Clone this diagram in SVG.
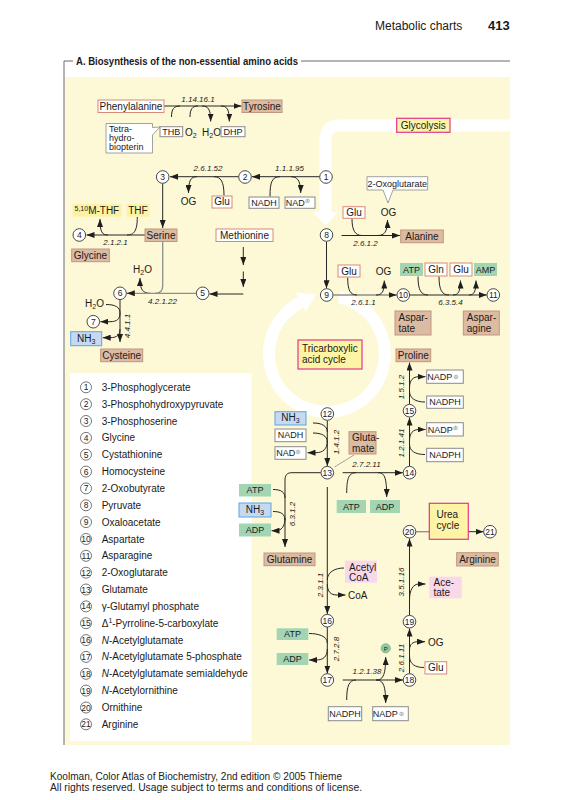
<svg xmlns="http://www.w3.org/2000/svg" width="564" height="800" viewBox="0 0 564 800">
<style>
text{font-family:"Liberation Sans",Arial,sans-serif;fill:#1a1a1a}
.t{font-size:10px}
.s{font-size:9px}
.c{text-anchor:middle}
.e{font-size:8px;font-style:italic}
.n{font-size:8.5px;text-anchor:middle}
.ln{fill:none;stroke:#262626;stroke-width:1}
.lg{fill:none;stroke:#8e8e8e;stroke-width:1.3}
.ar{marker-end:url(#ah)}
.nd{fill:#fff;stroke:#333;stroke-width:0.9}
.tan{fill:#dcbba3;stroke:#c0967e;stroke-width:1}
.wr{fill:#fff;stroke:#d98a76;stroke-width:1}
.wg{fill:#fff;stroke:#8a8a8a;stroke-width:1}
.grn{fill:#a3d5b3}
.blu{fill:#c6d9f1;stroke:#5aa6e0;stroke-width:1}
.yel{fill:#fcf2a2}
.mag{fill:#fdf4a6;stroke:#e0388c;stroke-width:1.2}
.pnk{fill:#f9d8ea}
.pl{font-family:"DejaVu Sans",sans-serif;font-size:6.5px;fill:#999}
.sub{font-size:7px}
</style>
<defs>
<marker id="ah" viewBox="0 0 8 6" refX="8" refY="3" markerWidth="8" markerHeight="6" markerUnits="userSpaceOnUse" orient="auto"><path d="M0,0 L8,3 L0,6 Z" fill="#1e1e1e"/></marker>
</defs>

<!-- header -->
<text x="375" y="30" style="font-size:12px">Metabolic charts</text>
<text x="488" y="30" style="font-size:13px;font-weight:bold">413</text>

<!-- frame -->
<rect x="64.5" y="77" width="445.5" height="668" fill="#fdf8d6"/>
<path d="M64,745 V61 H73 M301,61 H510" fill="none" stroke="#6a6a6a" stroke-width="1"/>
<text x="76" y="65" style="font-size:10.5px;font-weight:bold" textLength="222" lengthAdjust="spacingAndGlyphs">A. Biosynthesis of the non-essential amino acids</text>

<!-- white pathways (glycolysis band, TCA ring) -->
<g id="glycolysis-band">
<path d="M510,125.5 H339.5 Q325.5,125.5 325.5,139.5 V213" fill="none" stroke="#fff" stroke-width="12"/>
<polygon points="313,212 338,212 325.5,226" fill="#fff"/>
</g>
<g id="tca-ring">
<path d="M339.1,297.3 A58,58 0 1 1 300.7,302.3" fill="none" stroke="#fff" stroke-width="12"/>
<polygon points="295.7,292.5 305.7,312.1 315.9,294.6" fill="#fff"/>
</g>

<!-- legend -->
<g id="legend">
<rect x="70" y="373" width="181.7" height="368" fill="#fff"/>
<g fill="#fff" stroke="#555" stroke-width="0.8">
<circle cx="86" cy="387.3" r="5.5"/><circle cx="86" cy="404.2" r="5.5"/><circle cx="86" cy="421" r="5.5"/><circle cx="86" cy="437.9" r="5.5"/><circle cx="86" cy="454.7" r="5.5"/><circle cx="86" cy="471.6" r="5.5"/><circle cx="86" cy="488.4" r="5.5"/><circle cx="86" cy="505.3" r="5.5"/><circle cx="86" cy="522.1" r="5.5"/><circle cx="86" cy="539" r="5.5"/><circle cx="86" cy="555.8" r="5.5"/><circle cx="86" cy="572.7" r="5.5"/><circle cx="86" cy="589.5" r="5.5"/><circle cx="86" cy="606.4" r="5.5"/><circle cx="86" cy="623.2" r="5.5"/><circle cx="86" cy="640.1" r="5.5"/><circle cx="86" cy="656.9" r="5.5"/><circle cx="86" cy="673.8" r="5.5"/><circle cx="86" cy="690.6" r="5.5"/><circle cx="86" cy="707.5" r="5.5"/><circle cx="86" cy="724.3" r="5.5"/>
</g>
<g class="n">
<text x="86" y="390.3" class="n">1</text><text x="86" y="407.2" class="n">2</text><text x="86" y="424" class="n">3</text><text x="86" y="440.9" class="n">4</text><text x="86" y="457.7" class="n">5</text><text x="86" y="474.6" class="n">6</text><text x="86" y="491.4" class="n">7</text><text x="86" y="508.3" class="n">8</text><text x="86" y="525.1" class="n">9</text><text x="86" y="542" class="n">10</text><text x="86" y="558.8" class="n">11</text><text x="86" y="575.7" class="n">12</text><text x="86" y="592.5" class="n">13</text><text x="86" y="609.4" class="n">14</text><text x="86" y="626.2" class="n">15</text><text x="86" y="643.1" class="n">16</text><text x="86" y="659.9" class="n">17</text><text x="86" y="676.8" class="n">18</text><text x="86" y="693.6" class="n">19</text><text x="86" y="710.5" class="n">20</text><text x="86" y="727.3" class="n">21</text>
</g>
<g class="t">
<text x="101.7" y="390.8" class="t">3-Phosphoglycerate</text>
<text x="101.7" y="407.7" class="t">3-Phosphohydroxypyruvate</text>
<text x="101.7" y="424.5" class="t">3-Phosphoserine</text>
<text x="101.7" y="441.4" class="t">Glycine</text>
<text x="101.7" y="458.2" class="t">Cystathionine</text>
<text x="101.7" y="475.1" class="t">Homocysteine</text>
<text x="101.7" y="491.9" class="t">2-Oxobutyrate</text>
<text x="101.7" y="508.8" class="t">Pyruvate</text>
<text x="101.7" y="525.6" class="t">Oxaloacetate</text>
<text x="101.7" y="542.5" class="t">Aspartate</text>
<text x="101.7" y="559.3" class="t">Asparagine</text>
<text x="101.7" y="576.2" class="t">2-Oxoglutarate</text>
<text x="101.7" y="593" class="t">Glutamate</text>
<text x="101.7" y="609.9" class="t">γ-Glutamyl phosphate</text>
<text x="101.7" y="626.7" class="t">Δ<tspan class="sub" dy="-3.5">1</tspan><tspan dy="3.5">-Pyrroline-5-carboxylate</tspan></text>
<text x="101.7" y="643.6" class="t"><tspan font-style="italic">N</tspan>-Acetylglutamate</text>
<text x="101.7" y="660.4" class="t"><tspan font-style="italic">N</tspan>-Acetylglutamate 5-phosphate</text>
<text x="101.7" y="677.3" class="t" textLength="146" lengthAdjust="spacingAndGlyphs"><tspan font-style="italic">N</tspan>-Acetylglutamate semialdehyde</text>
<text x="101.7" y="694.1" class="t"><tspan font-style="italic">N</tspan>-Acetylornithine</text>
<text x="101.7" y="711" class="t">Ornithine</text>
<text x="101.7" y="727.8" class="t">Arginine</text>
</g>
</g>

<!-- connectors -->
<g id="connectors">
<path class="ln ar" d="M164,106 L241.5,106"/>
<path class="ln" d="M171.5,117 C171.5,109 174,106 180,106"/>
<path class="ln" d="M190,117 C190,109 192.5,106 198,106"/>
<path class="ln ar" d="M202,106 C208,106 210.7,109 210.7,121.5"/>
<path class="ln ar" d="M221,106 C227,106 229.3,109 229.3,121.5"/>

<path class="ln ar" d="M319.5,176.7 L252,176.7"/>
<path class="ln" d="M270,196.5 C270,182 272,176.7 280,176.7"/>
<path class="ln ar" d="M291,176.7 C297,176.7 300.7,180 300.7,193"/>
<path class="ln ar" d="M238.5,176.7 L170,176.7"/>
<path class="ln ar" d="M197,176.7 C191,176.7 188.5,180 188.5,193"/>
<path class="ln" d="M224,195.5 C224,182 221,176.7 214,176.7"/>

<path class="ln ar" d="M162.7,183.5 L162.7,228"/>
<path class="ln ar" d="M145,235 L86.5,235"/>
<path class="ln" d="M137.3,217 C137.3,231 134,235 127,235"/>
<path class="ln ar" d="M108,235 C102,235 100,232 100,219"/>

<path class="lg" d="M162.7,241.5 L162.7,286 C162.7,291 160,293.3 155,293.3"/>
<path class="ln ar" d="M150,293.3 C143,293.3 140,290 140,278"/>
<path class="ln ar" d="M243.3,247 L243.3,265"/>
<path class="ln ar" d="M243.3,271.5 L243.3,287"/>
<path class="ln ar" d="M243.3,294 L209.5,294"/>
<path class="lg" d="M196,293.3 L130,293.3"/>
<path class="ln ar" d="M134,293.3 L126.8,293.3"/>
<path class="ln ar" d="M120,299.8 L120,342"/>
<path class="ln" d="M106,304.5 C115,304.5 120,307 120,313"/>
<path class="ln ar" d="M120,313 C120,319 117,321.7 110,321.7 L100.3,321.7"/>
<path class="ln ar" d="M120,329 C120,335 117,337.7 110,337.7 L102.7,337.7"/>

<path class="ln ar" d="M326.5,241.8 L326.5,288.3"/>
<path class="ln ar" d="M341.5,235.5 L400,235.5"/>
<path class="ln" d="M352,219 C352,230 355,235.5 362,235.5"/>
<path class="ln ar" d="M378,235.5 C384,235.5 387.5,232 387.5,220"/>

<path class="lg" d="M333.5,295 L392,295"/>
<path class="ln ar" d="M390,295 L396.6,295"/>
<path class="ln" d="M347.7,277.5 C347.7,290 350,295 357,295"/>
<path class="ln ar" d="M376,295 C382,295 384.3,292 384.3,280.5"/>
<path class="ln ar" d="M410,295 L486.7,295"/>
<path class="ln" d="M418,276.5 C418,290 421,295 428,295"/>
<path class="ln" d="M439,276.5 C439,290 442,295 449,295"/>
<path class="ln ar" d="M453,295 C458,295 460.5,292 460.5,280.5"/>
<path class="ln ar" d="M469,295 C474,295 476,292 476,280.5"/>

<path class="ln ar" d="M327.3,420.6 L327.3,466"/>
<path class="ln" d="M313,423 C322,423 327.3,426 327.3,432"/>
<path class="ln" d="M313,433 C322,433 327.3,436 327.3,442"/>
<path class="ln ar" d="M327.3,441 C327.3,449 323,452.7 316,452.7 L307.5,452.7"/>
<path class="lg" d="M354,455 L334.5,467" style="stroke-width:0.8"/>

<path class="ln ar" d="M342.7,472.7 L402.8,472.7"/>
<path class="ln" d="M346.7,493 C346.7,478 349,472.7 356,472.7"/>
<path class="ln ar" d="M378,472.7 C384,472.7 386.7,476 386.7,497"/>

<path class="ln ar" d="M320.7,472.7 L292,472.7 C287,472.7 285,475 285,480 L285,547"/>
<path class="ln" d="M273,489.5 C281,489.5 285,492 285,498"/>
<path class="ln" d="M273,511.5 C281,511.5 285,514 285,520"/>
<path class="ln ar" d="M285,518 C285,527 281,530.7 276,530.7 L271.5,530.7"/>

<path class="ln ar" d="M327.3,487 L327.3,614"/>
<path class="ln" d="M344,568 C335,568 327.3,572 327.3,580"/>
<path class="ln ar" d="M327.3,584 C327.3,592 331,595 337,595 L345.5,595"/>

<path class="ln ar" d="M327.3,627 L327.3,673.5"/>
<path class="ln" d="M309,633.5 C318,633.5 327.3,636 327.3,643"/>
<path class="ln ar" d="M327.3,649 C327.3,657 323,660 316,660 L309,660"/>

<path class="ln ar" d="M342.7,680 L403,680"/>
<path class="ln" d="M346.7,700 C346.7,686 349,680 356,680"/>
<path class="ln ar" d="M376,680 C382,680 385.7,677 385.7,657"/>
<path class="ln ar" d="M376,680 C382,680 385.7,683 385.7,703"/>

<path class="ln ar" d="M409.5,673.5 L409.5,628.5"/>
<path class="ln ar" d="M409.5,650 C409.5,644 413,641.7 418,641.7 L425,641.7"/>
<path class="ln" d="M424,667.5 C415,667.5 409.5,664 409.5,656"/>

<path class="ln ar" d="M409.5,615 L409.5,538.5"/>
<path class="ln ar" d="M409.5,600 C409.5,590 413,584 419,584 L425.5,584"/>
<path class="lg" d="M416,531.7 L429.3,531.7"/>
<path class="ln ar" d="M468.3,531.7 L483.5,531.7"/>

<path class="ln ar" d="M409.5,466 L409.5,417.5"/>
<path class="ln" d="M425,454.5 C415,454.5 409.5,451 409.5,444"/>
<path class="ln ar" d="M409.5,441 C409.5,433 413,429.5 419,429.5 L425.5,429.5"/>
<path class="ln ar" d="M409.5,404 L409.5,362.5"/>
<path class="ln" d="M425,402 C415,402 409.5,398 409.5,391"/>
<path class="ln ar" d="M409.5,388 C409.5,380 413,376.7 419,376.7 L425.5,376.7"/>
</g>

<!-- enzyme labels -->
<g id="enzymes">
<text x="198" y="102" class="e c">1.14.16.1</text>
<text x="289.5" y="171" class="e c">1.1.1.95</text>
<text x="208" y="171" class="e c">2.6.1.52</text>
<text x="115.5" y="245" class="e c">2.1.2.1</text>
<text x="162.5" y="304" class="e c">4.2.1.22</text>
<text x="130" y="326" class="e c" transform="rotate(-90 130 326)">4.4.1.1</text>
<text x="365.5" y="246" class="e c">2.6.1.2</text>
<text x="363.5" y="305" class="e c">2.6.1.1</text>
<text x="450.5" y="305" class="e c">6.3.5.4</text>
<text x="339" y="442" class="e c" transform="rotate(-90 339 442)">1.4.1.2</text>
<text x="366.5" y="467" class="e c">2.7.2.11</text>
<text x="294.5" y="514" class="e c" transform="rotate(-90 294.5 514)">6.3.1.2</text>
<text x="322.5" y="585" class="e c" transform="rotate(-90 322.5 585)">2.3.1.1</text>
<text x="339" y="649" class="e c" transform="rotate(-90 339 649)">2.7.2.8</text>
<text x="367" y="674" class="e c">1.2.1.38</text>
<text x="403.5" y="658" class="e c" transform="rotate(-90 403.5 658)">2.6.1.11</text>
<text x="403.5" y="582" class="e c" transform="rotate(-90 403.5 582)">3.5.1.16</text>
<text x="403.5" y="443" class="e c" transform="rotate(-90 403.5 443)">1.2.1.41</text>
<text x="403.5" y="387" class="e c" transform="rotate(-90 403.5 387)">1.5.1.2</text>
</g>

<!-- boxes / metabolites -->
<g id="phenylalanine"><rect class="wr" x="98" y="100" width="66" height="12.5"/><text x="131" y="109.8" class="t c">Phenylalanine</text></g>
<g id="tyrosine"><rect class="tan" x="242" y="100" width="40" height="12.5"/><text x="262" y="109.8" class="t c">Tyrosine</text></g>
<g id="tetrahydrobiopterin"><path d="M106,123.5 H152.5 V127.5 L160,127 L152.5,135 V153 H106 Z" fill="#fff" stroke="#8a8a8a" stroke-width="0.8"/><text x="109" y="132" class="s">Tetra-</text><text x="109" y="141" class="s">hydro-</text><text x="109" y="150" class="s">biopterin</text></g>
<g id="thb"><rect class="wg" x="160" y="126.7" width="22.7" height="10"/><text x="171.3" y="135" class="s c">THB</text></g>
<g id="o2"><text x="185" y="135.5" class="t">O<tspan class="sub" dy="2">2</tspan></text></g>
<g id="h2o-1"><text x="202" y="135.5" class="t">H<tspan class="sub" dy="2">2</tspan><tspan dy="-2">O</tspan></text></g>
<g id="dhp"><rect class="wg" x="221" y="126.7" width="24" height="10"/><text x="233" y="135" class="s c">DHP</text></g>
<g id="glycolysis"><rect class="mag" x="396.7" y="118.3" width="53.3" height="14"/><text x="423.3" y="128.8" class="t c">Glycolysis</text></g>

<g id="oxoglutarate-callout"><path d="M367,176.7 H427.7 V190 H393 L388,203 L383,190 H367 Z" fill="#fff" stroke="#8a8a8a" stroke-width="0.8"/><text x="397.3" y="186.8" class="s c">2-Oxoglutarate</text></g>
<g id="nadh-1"><rect class="wg" x="249" y="197" width="30" height="11.3"/><text x="264" y="205.8" class="s c">NADH</text></g>
<g id="nad-1"><rect class="wg" x="285" y="197" width="30" height="11.3"/><text x="298" y="205.8" class="s c">NAD<tspan class="pl" dy="-2.5">⊕</tspan></text></g>
<g id="glu-1"><rect class="wr" x="212" y="196" width="20" height="12"/><text x="222" y="205.3" class="t c">Glu</text></g>
<g id="og-1"><text x="188.5" y="204.5" class="t c">OG</text></g>
<g id="mthf"><rect class="yel" x="72.7" y="204" width="49" height="12.7"/><text x="74.5" y="213.5" class="t"><tspan class="sub" dy="-2.5">5,10</tspan><tspan dy="2.5">M-THF</tspan></text></g>
<g id="thf"><rect class="yel" x="126.7" y="204" width="22.6" height="12.7"/><text x="138" y="213.8" class="t c">THF</text></g>
<g id="serine"><rect class="tan" x="145" y="229" width="32" height="12.5"/><text x="161" y="238.8" class="t c">Serine</text></g>
<g id="glycine"><rect class="tan" x="71.7" y="249" width="37.6" height="12.7"/><text x="90.5" y="258.8" class="t c">Glycine</text></g>
<g id="methionine"><rect class="wr" x="216" y="229" width="57" height="12.5"/><text x="244.5" y="238.8" class="t c">Methionine</text></g>
<g id="h2o-2"><text x="133" y="273" class="t">H<tspan class="sub" dy="2">2</tspan><tspan dy="-2">O</tspan></text></g>
<g id="h2o-3"><text x="85" y="307" class="t">H<tspan class="sub" dy="2">2</tspan><tspan dy="-2">O</tspan></text></g>
<g id="nh3-1"><rect class="blu" x="70.7" y="331.7" width="31" height="14"/><text x="86.2" y="341.5" class="t c">NH<tspan class="sub" dy="2">3</tspan></text></g>
<g id="cysteine"><rect class="tan" x="100.7" y="349" width="42" height="12.7"/><text x="121.7" y="358.8" class="t c">Cysteine</text></g>

<g id="glu-2"><rect class="wr" x="343" y="206.7" width="22" height="11.6"/><text x="354" y="215.8" class="t c">Glu</text></g>
<g id="og-2"><text x="388.5" y="216" class="t c">OG</text></g>
<g id="alanine"><rect class="tan" x="400.7" y="230" width="42.6" height="12.7"/><text x="422" y="239.8" class="t c">Alanine</text></g>
<g id="glu-3"><rect class="wr" x="338" y="265" width="22" height="12"/><text x="349" y="274.5" class="t c">Glu</text></g>
<g id="og-3"><text x="383.5" y="275" class="t c">OG</text></g>
<g id="atp-1"><rect class="grn" x="400" y="263" width="23" height="13"/><text x="411.5" y="272.7" class="s c">ATP</text></g>
<g id="gln"><rect class="wr" x="425" y="263" width="22" height="13"/><text x="436" y="273" class="t c">Gln</text></g>
<g id="glu-4"><rect class="wr" x="450" y="263" width="22" height="13"/><text x="461" y="273" class="t c">Glu</text></g>
<g id="amp"><rect class="grn" x="474" y="263" width="23" height="13"/><text x="485.5" y="272.7" class="s c">AMP</text></g>
<g id="aspartate"><rect class="tan" x="395" y="311" width="36" height="24"/><text x="398.5" y="321" class="t">Aspar-</text><text x="398.5" y="331.5" class="t">tate</text></g>
<g id="asparagine"><rect class="tan" x="463.3" y="311" width="36" height="24"/><text x="466.8" y="321" class="t">Aspar-</text><text x="466.8" y="331.5" class="t">agine</text></g>
<g id="tca"><rect class="mag" x="298" y="340" width="64" height="29"/><text x="302" y="352" class="t">Tricarboxylic</text><text x="302" y="363" class="t">acid cycle</text></g>

<g id="proline"><rect class="tan" x="396" y="349" width="34.7" height="12.7"/><text x="413.3" y="358.8" class="t c">Proline</text></g>
<g id="nadp-1"><rect class="wg" x="426.7" y="370" width="36.6" height="13.3"/><text x="443" y="379.8" class="s c">NADP<tspan class="pl" dx="1" dy="-0.5">⊕</tspan></text></g>
<g id="nadph-1"><rect class="wg" x="426.7" y="396" width="36.6" height="12.3"/><text x="445" y="405.3" class="s c">NADPH</text></g>
<g id="nadp-2"><rect class="wg" x="426.7" y="422.7" width="36.6" height="13.3"/><text x="443" y="432.5" class="s c">NADP<tspan class="pl" dy="-2.5">⊕</tspan></text></g>
<g id="nadph-2"><rect class="wg" x="426.7" y="448.3" width="36.6" height="13.4"/><text x="445" y="458.2" class="s c">NADPH</text></g>

<g id="nh3-2"><rect class="blu" x="275" y="411.7" width="31" height="13.3"/><text x="290.5" y="421.3" class="t c">NH<tspan class="sub" dy="2">3</tspan></text></g>
<g id="nadh-2"><rect class="wg" x="275" y="429" width="31" height="12.7"/><text x="290.5" y="438.4" class="s c">NADH</text></g>
<g id="nad-2"><rect class="wg" x="275" y="446.7" width="31" height="12.6"/><text x="288.5" y="456" class="s c">NAD<tspan class="pl" dy="-2.5">⊕</tspan></text></g>
<g id="glutamate"><rect class="tan" x="349" y="431.7" width="27" height="22.3"/><text x="352" y="441.3" class="t">Gluta-</text><text x="352" y="451.5" class="t">mate</text></g>
<g id="atp-2"><rect class="grn" x="336.7" y="500" width="29.3" height="13"/><text x="351.3" y="509.7" class="s c">ATP</text></g>
<g id="adp-2"><rect class="grn" x="370" y="500" width="30" height="13"/><text x="385" y="509.7" class="s c">ADP</text></g>
<g id="atp-3"><rect class="grn" x="239" y="484" width="32" height="12.5"/><text x="255" y="493.4" class="s c">ATP</text></g>
<g id="nh3-3"><rect class="blu" x="239" y="503" width="32" height="14"/><text x="255" y="512.8" class="t c">NH<tspan class="sub" dy="2">3</tspan></text></g>
<g id="adp-3"><rect class="grn" x="239" y="523.5" width="32" height="13"/><text x="255" y="533.2" class="s c">ADP</text></g>
<g id="glutamine"><rect class="tan" x="264" y="553" width="51" height="12.7"/><text x="289.5" y="562.8" class="t c">Glutamine</text></g>
<g id="acetylcoa"><rect class="pnk" x="345" y="560.7" width="32" height="22"/><text x="349" y="570.5" class="t">Acetyl</text><text x="349" y="580.5" class="t">CoA</text></g>
<g id="coa"><text x="348" y="599" class="t">CoA</text></g>
<g id="urea"><rect class="mag" x="429.3" y="503.3" width="39" height="36"/><text x="436.5" y="518" class="t">Urea</text><text x="436.5" y="529" class="t">cycle</text></g>
<g id="arginine"><rect class="tan" x="456.7" y="552.7" width="41.6" height="13.3"/><text x="477.5" y="562.8" class="t c">Arginine</text></g>
<g id="acetate"><rect class="pnk" x="429.3" y="576.7" width="32.4" height="21.6"/><text x="433.5" y="586" class="t">Ace-</text><text x="433.5" y="596" class="t">tate</text></g>
<g id="atp-4"><rect class="grn" x="276.7" y="628.3" width="31.6" height="11.7"/><text x="292.5" y="637.4" class="s c">ATP</text></g>
<g id="adp-4"><rect class="grn" x="276.7" y="653" width="31.6" height="12"/><text x="292.5" y="662.2" class="s c">ADP</text></g>
<g id="og-4"><text x="428" y="645.5" class="t">OG</text></g>
<g id="glu-5"><rect class="wr" x="425" y="661.7" width="21.7" height="12.3"/><text x="435.8" y="671" class="t c">Glu</text></g>
<g id="phosphate"><circle cx="385.7" cy="648.3" r="4.6" fill="#8fcca3" stroke="#5aa57a" stroke-width="0.6"/><text x="385.7" y="650.6" class="c" style="font-size:6px">P</text></g>
<g id="nadph-3"><rect class="wg" x="328.3" y="706.7" width="33.4" height="14"/><text x="345" y="716.5" class="s c">NADPH</text></g>
<g id="nadp-3"><rect class="wg" x="372.7" y="706.7" width="35.6" height="14"/><text x="388.5" y="716.5" class="s c">NADP<tspan class="pl" dx="1" dy="-0.5">⊕</tspan></text></g>

<!-- numbered nodes -->
<g id="n1"><circle class="nd" cx="326" cy="177" r="6.3"/><text x="326" y="180" class="n">1</text></g>
<g id="n2"><circle class="nd" cx="245" cy="177" r="6.3"/><text x="245" y="180" class="n">2</text></g>
<g id="n3"><circle class="nd" cx="162.7" cy="177" r="6.3"/><text x="162.7" y="180" class="n">3</text></g>
<g id="n4"><circle class="nd" cx="79.3" cy="235" r="6.3"/><text x="79.3" y="238" class="n">4</text></g>
<g id="n5"><circle class="nd" cx="202.7" cy="293.3" r="6.3"/><text x="202.7" y="296.3" class="n">5</text></g>
<g id="n6"><circle class="nd" cx="120" cy="293.3" r="6.3"/><text x="120" y="296.3" class="n">6</text></g>
<g id="n7"><circle class="nd" cx="93.3" cy="321.7" r="6.3"/><text x="93.3" y="324.7" class="n">7</text></g>
<g id="n8"><circle class="nd" cx="326.5" cy="235" r="6.3"/><text x="326.5" y="238" class="n">8</text></g>
<g id="n9"><circle class="nd" cx="326.7" cy="295" r="6.3"/><text x="326.7" y="298" class="n">9</text></g>
<g id="n10"><circle class="nd" cx="403.3" cy="295" r="6.3"/><text x="403.3" y="298" class="n">10</text></g>
<g id="n11"><circle class="nd" cx="493.3" cy="295" r="6.3"/><text x="493.3" y="298" class="n">11</text></g>
<g id="n12"><circle class="nd" cx="327.3" cy="414" r="6.3"/><text x="327.3" y="417" class="n">12</text></g>
<g id="n13"><circle class="nd" cx="327.3" cy="472.7" r="6.3"/><text x="327.3" y="475.7" class="n">13</text></g>
<g id="n14"><circle class="nd" cx="409.5" cy="472.7" r="6.3"/><text x="409.5" y="475.7" class="n">14</text></g>
<g id="n15"><circle class="nd" cx="409.5" cy="410.7" r="6.3"/><text x="409.5" y="413.7" class="n">15</text></g>
<g id="n16"><circle class="nd" cx="327.3" cy="620.7" r="6.3"/><text x="327.3" y="623.7" class="n">16</text></g>
<g id="n17"><circle class="nd" cx="327.3" cy="680" r="6.3"/><text x="327.3" y="683" class="n">17</text></g>
<g id="n18"><circle class="nd" cx="409.5" cy="680" r="6.3"/><text x="409.5" y="683" class="n">18</text></g>
<g id="n19"><circle class="nd" cx="409.5" cy="621.7" r="6.3"/><text x="409.5" y="624.7" class="n">19</text></g>
<g id="n20"><circle class="nd" cx="409.5" cy="531.7" r="6.3"/><text x="409.5" y="534.7" class="n">20</text></g>
<g id="n21"><circle class="nd" cx="490" cy="531.7" r="6.3"/><text x="490" y="534.7" class="n">21</text></g>

<!-- footer -->
<text x="50" y="780" style="font-size:10px;fill:#222" textLength="292" lengthAdjust="spacingAndGlyphs">Koolman, Color Atlas of Biochemistry, 2nd edition © 2005 Thieme</text>
<text x="50" y="791" style="font-size:10px;fill:#222" textLength="312" lengthAdjust="spacingAndGlyphs">All rights reserved. Usage subject to terms and conditions of license.</text>
</svg>
